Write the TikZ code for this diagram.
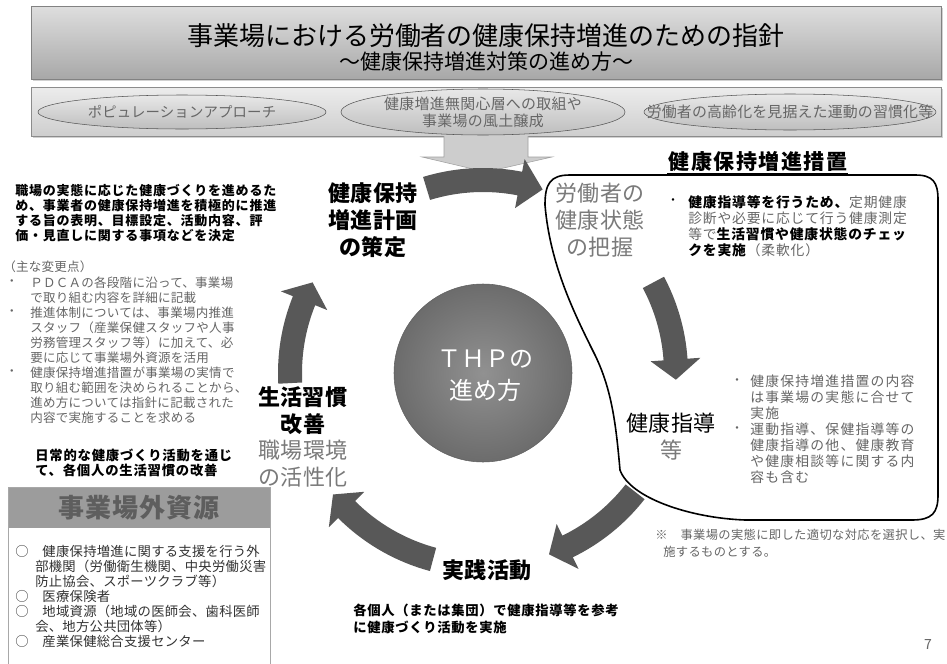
\documentclass[tikz,border=0pt]{standalone}
\usepackage{fontspec}
\setmainfont{Noto Sans CJK JP}
\newfontfamily\jp{Noto Sans CJK JP}
\definecolor{tgray}{HTML}{666666}
\definecolor{lgray}{HTML}{7A7A7A}
\definecolor{agray}{HTML}{585858}
\definecolor{hdrgray}{HTML}{9C9C9C}
\definecolor{hdrtext}{HTML}{5E5E5E}
\definecolor{boxtext}{HTML}{333333}
\definecolor{boxline}{HTML}{A8A8A8}
\newcommand\fs[2]{\fontsize{#1}{#2}\selectfont}
\newcommand\ls[1]{\addfontfeatures{LetterSpace=#1}}
\def\cycRM{193}\def\cycRO{205}\def\cycRI{181}\def\cycHO{218}\def\cycHI{168}
\newcommand\cycarrow[3]{%
  \fill[cycfill] (#1:\cycRO) arc[start angle=#1, end angle=#2, radius=\cycRO]
    -- (#2:\cycHO) -- (#3:\cycRM) -- (#2:\cycHI) -- (#2:\cycRI)
    arc[start angle=#2, end angle=#1, radius=\cycRI] -- cycle;}
\begin{document}
\begin{tikzpicture}[x=0.75pt,y=-0.75pt,
  txt/.style={inner sep=0pt, anchor=north west, align=left},
  lbl/.style={inner sep=0pt, align=center},
  bul/.style={inner sep=0pt, font=\fs{9pt}{10pt}},
  cycfill/.style={fill=agray},
  bubble/.style={draw=black, line width=1.2pt},
  shadowbox/.style={fill=black!18}]
\useasboundingbox (0,0) rectangle (947,664);
\fill[white] (0,0) rectangle (947,664);

% title box
\fill[shadowbox] (33,8) rectangle (943,81);
\path[draw={rgb,255:red,130;green,130;blue,130}, top color={rgb,255:red,222;green,222;blue,222}, bottom color={rgb,255:red,168;green,168;blue,168}] (31,6) rectangle (941,79);
\node[lbl, font=\fs{19.5pt}{20pt}] (title) at (486,36) {事業場における労働者の健康保持増進のための指針};
\node[lbl, font=\fs{15.75pt}{16pt}] (subtitle) at (486,62) {～健康保持増進対策の進め方～};

% band
\fill[shadowbox] (33,89) rectangle (943,138);
\path[draw={rgb,255:red,140;green,140;blue,140}, top color={rgb,255:red,236;green,236;blue,236}, bottom color={rgb,255:red,206;green,206;blue,206}] (31,87) rectangle (941,136);
\path[draw={rgb,255:red,85;green,85;blue,85}, top color={rgb,255:red,232;green,232;blue,232}, bottom color={rgb,255:red,190;green,190;blue,190}] (182,112) ellipse[x radius=144, y radius=17];
\path[draw={rgb,255:red,85;green,85;blue,85}, top color={rgb,255:red,232;green,232;blue,232}, bottom color={rgb,255:red,190;green,190;blue,190}] (483,112) ellipse[x radius=142, y radius=23];
\path[draw={rgb,255:red,85;green,85;blue,85}, top color={rgb,255:red,232;green,232;blue,232}, bottom color={rgb,255:red,190;green,190;blue,190}] (790,112) ellipse[x radius=146, y radius=18];
\node[lbl, font=\fs{10.8pt}{12pt}\ls{1}, text=tgray] (e1) at (182,112) {ポピュレーションアプローチ};
\node[lbl, font=\fs{11.2pt}{12.75pt}\ls{2}, text=tgray] (e2) at (483,112) {健康増進無関心層への取組や\\事業場の風土醸成};
\node[lbl, font=\fs{11.2pt}{12pt}\ls{1}, text=tgray] (e3) at (790,112) {労働者の高齢化を見据えた運動の習慣化等};

% down arrow from band
\path[fill={rgb,255:red,205;green,205;blue,205}, draw={rgb,255:red,160;green,160;blue,160}]
  (444,136) -- (444,157) -- (422,157) -- (486,172) -- (552,157) -- (528,157) -- (528,136);

% bubble of measures
\draw[bubble] (545,205) .. controls (545,184) and (550,175) .. (570,175) -- (915,175)
  .. controls (933,175) and (938,182) .. (938,200) -- (938,495)
  .. controls (938,513) and (932,520) .. (912,520) -- (745,520)
  .. controls (690,518) and (630,498) .. (620,470)
  .. controls (616,425) and (612,390) .. (595,355)
  .. controls (575,315) and (550,265) .. (545,205) -- cycle;
\node[lbl, font=\fs{15.75pt}{16pt}\bfseries\ls{7}] (measures) at (758,162) {健康保持増進措置};
\draw[line width=1.2pt] (667,174) -- (848,174);

% center circle
\node[circle, minimum size=133.5pt, inner sep=0pt, draw={rgb,255:red,95;green,95;blue,95},
  inner color={rgb,255:red,145;green,145;blue,145}, outer color={rgb,255:red,108;green,108;blue,108}] (thp) at (483,373) {};
\node[lbl, font=\fs{18pt}{24pt}, text=white] (thptxt) at (485,376) {ＴＨＰの\\進め方};

% cycle arrows
\begin{scope}[shift={(483,373)}, yscale=-1]
\cycarrow{107}{79}{72}
\cycarrow{28}{4}{-2}
\cycarrow{-38}{-64}{-70}
\cycarrow{-105}{-135}{-141}
\cycarrow{183}{158}{152}
\end{scope}

% cycle labels
\node[lbl, font=\fs{16.5pt}{20.25pt}\bfseries\ls{2}] (plan) at (373,220) {健康保持\\増進計画\\の策定};
\node[lbl, font=\fs{16.5pt}{20.25pt}\ls{2}, text=lgray] (state) at (600,220) {労働者の\\健康状態\\の把握};
\node[lbl, font=\fs{16.5pt}{20.25pt}\ls{2}] (guide) at (671,436.5) {健康指導\\\textcolor{lgray}{等}};
\node[lbl, font=\fs{16.5pt}{20.25pt}\bfseries\ls{2}] (practice) at (487,570) {実践活動};
\node[lbl, font=\fs{16.5pt}{20pt}\ls{2}] (life) at (303,437) {\textbf{生活習慣}\\\textbf{改善}\\\textcolor{lgray}{職場環境}\\\textcolor{lgray}{の活性化}};

% left texts
\node[txt, font=\fs{9.75pt}{11.25pt}\bfseries\ls{6}] (ptxt) at (15,184.5)
  {職場の実態に応じた健康づくりを進めるた\\め、事業者の健康保持増進を積極的に推進\\する旨の表明、目標設定、活動内容、評\\価・見直しに関する事項などを決定};
\node[txt, font=\fs{9.4pt}{11.25pt}\ls{2}, text=tgray] (chg) at (3,261) {（主な変更点）};
\node[txt, font=\fs{9.4pt}{11.25pt}\ls{2}, text=tgray] (chgtxt) at (30,277)
  {ＰＤＣＡの各段階に沿って、事業場\\で取り組む内容を詳細に記載\\推進体制については、事業場内推進\\スタッフ（産業保健スタッフや人事\\労務管理スタッフ等）に加えて、必\\要に応じて事業場外資源を活用\\健康保持増進措置が事業場の実情で\\取り組む範囲を決められることから、\\進め方については指針に記載された\\内容で実施することを求める};
\node[bul, text=tgray] (lb1) at (12,283) {・};
\node[bul, text=tgray] (lb2) at (12,313) {・};
\node[bul, text=tgray] (lb3) at (12,373) {・};
\node[txt, font=\fs{10pt}{11.25pt}\bfseries\ls{6}] (daily) at (35,448.5)
  {日常的な健康づくり活動を通じ\\て、各個人の生活習慣の改善};

% outside resources box
\fill[hdrgray] (8,487) rectangle (270,528);
\draw[boxline] (8,664) -- (8,487) -- (270,487) -- (270,664);
\node[lbl, font=\fs{19.5pt}{20pt}\bfseries\ls{4}, text=hdrtext] (hdr) at (139,508) {事業場外資源};
\node[txt, font=\fs{10pt}{11.25pt}\ls{2}, text=boxtext] (boxtxt) at (15,545.5)
  {○　健康保持増進に関する支援を行う外\\\hspace*{15pt}部機関（労働衛生機関、中央労働災害\\\hspace*{15pt}防止協会、スポーツクラブ等）\\○　医療保険者\\○　地域資源（地域の医師会、歯科医師\\\hspace*{15pt}会、地方公共団体等）\\○　産業保健総合支援センター};

% right texts
\node[bul] (rb1) at (673,202) {・};
\node[txt, font=\fs{10.35pt}{12pt}\ls{6}] (rtxt) at (688,195)
  {\textbf{健康指導等を行うため、}\textcolor{tgray}{定期健康}\\\textcolor{tgray}{診断や必要に応じて行う健康測定}\\\textcolor{tgray}{等で}\textbf{生活習慣や健康状態のチェッ}\\\textbf{クを実施}\textcolor{tgray}{（柔軟化）}};
\node[bul, text=tgray] (rb2) at (737,382) {・};
\node[bul, text=tgray] (rb3) at (737,430) {・};
\node[txt, font=\fs{10.35pt}{12pt}\ls{9}, text=tgray] (lrtxt) at (750,375)
  {健康保持増進措置の内容\\は事業場の実態に合せて\\実施\\運動指導、保健指導等の\\健康指導の他、健康教育\\や健康相談等に関する内\\容も含む};
\node[txt, font=\fs{9.2pt}{12.75pt}\ls{3}, text=tgray] (note) at (655,529)
  {※　事業場の実態に即した適切な対応を選択し、実\\\hspace*{6pt}施するものとする。};

% bottom
\node[txt, font=\fs{10pt}{12.75pt}\bfseries\ls{5}] (btm) at (353,603.5)
  {各個人（または集団）で健康指導等を参考\\に健康づくり活動を実施};
\node[lbl, font=\fs{10.5pt}{12pt}, text=tgray] (pnum) at (928,645) {7};
\end{tikzpicture}
\end{document}
